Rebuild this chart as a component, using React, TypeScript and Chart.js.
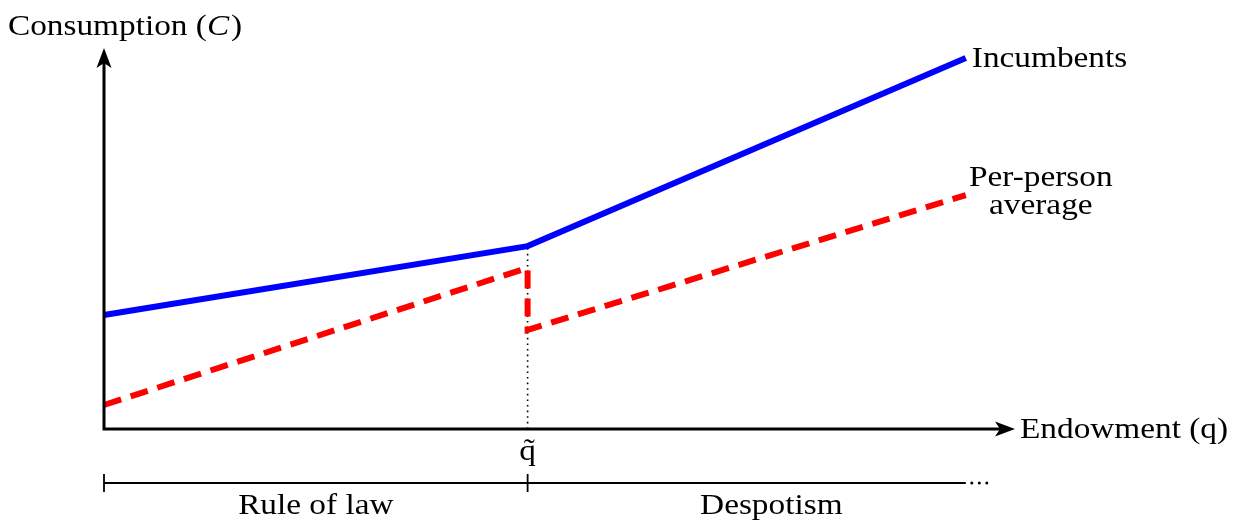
import React, { useEffect, useRef } from "react";
import { Chart, registerables } from "chart.js";

Chart.register(...registerables);

// ---- data (arbitrary units) ----
const xMax = 10;
const yMax = 10;
const qTilde = 4.65;
const qEnd = 9.46;
const incumbentsX = [0, 4.65, 9.46];
const incumbentsY = [2.99, 4.8, 9.74];
const averageX = [0, 4.65, 4.65, 9.46];
const averageY = [0.63, 4.23, 2.6, 6.14];

const yAxisTitle = "Consumption (";
const yAxisSymbol = "C";
const xAxisTitle = "Endowment (q)";
const qTildeLabel = "q\u0303";
const incumbentsLabel = "Incumbents";
const averageLabel = ["Per-person", "average"];
const regimeLabels = ["Rule of law", "Despotism"];

const SERIF = "'Liberation Serif', 'DejaVu Serif', serif";
const FS = 30;
const STRETCH = 1.11;

function toPoints(xs: number[], ys: number[]) {
  return xs.map((x, i) => ({ x, y: ys[i] }));
}

// draw text horizontally stretched to mimic the wider Computer Modern face
function textS(ctx: CanvasRenderingContext2D, s: string, x: number, y: number, align: "left" | "center" = "left") {
  const w = ctx.measureText(s).width * STRETCH;
  const left = align === "center" ? x - w / 2 : x;
  ctx.save();
  ctx.textAlign = "left";
  ctx.translate(left, y);
  ctx.scale(STRETCH, 1);
  ctx.fillText(s, 0, 0);
  ctx.restore();
  return w;
}

const diagramPlugin = {
  id: "diagram",
  beforeDatasetsDraw(chart: any) {
    const ctx = chart.ctx as CanvasRenderingContext2D;
    const xs = chart.scales.x;
    const ys = chart.scales.y;
    const y0 = ys.getPixelForValue(0);
    const xq = xs.getPixelForValue(qTilde);
    ctx.save();
    ctx.strokeStyle = "#000";
    ctx.lineWidth = 1.6;
    ctx.setLineDash([1.6, 4]);
    ctx.beginPath();
    ctx.moveTo(xq, y0);
    ctx.lineTo(xq, ys.getPixelForValue(incumbentsY[1]));
    ctx.stroke();
    ctx.restore();
  },
  afterDatasetsDraw(chart: any) {
    const ctx = chart.ctx as CanvasRenderingContext2D;
    const xs = chart.scales.x;
    const ys = chart.scales.y;
    const x0 = xs.getPixelForValue(0);
    const y0 = ys.getPixelForValue(0);
    const xTip = xs.getPixelForValue(xMax);
    const yTip = ys.getPixelForValue(yMax);
    const xq = xs.getPixelForValue(qTilde);
    const xe = xs.getPixelForValue(qEnd);
    ctx.save();
    ctx.strokeStyle = "#000";
    ctx.fillStyle = "#000";
    ctx.lineWidth = 3;
    ctx.lineCap = "butt";
    // axes
    ctx.beginPath();
    ctx.moveTo(x0 - 1.5, y0);
    ctx.lineTo(xTip - 12, y0);
    ctx.moveTo(x0, y0 + 1.5);
    ctx.lineTo(x0, yTip + 12);
    ctx.stroke();
    // arrowheads (stealth style)
    const L = 20, W = 7.5, notch = 5;
    ctx.beginPath();
    ctx.moveTo(xTip, y0);
    ctx.lineTo(xTip - L, y0 - W);
    ctx.lineTo(xTip - L + notch, y0);
    ctx.lineTo(xTip - L, y0 + W);
    ctx.closePath();
    ctx.fill();
    ctx.beginPath();
    ctx.moveTo(x0, yTip);
    ctx.lineTo(x0 - W, yTip + L);
    ctx.lineTo(x0, yTip + L - notch);
    ctx.lineTo(x0 + W, yTip + L);
    ctx.closePath();
    ctx.fill();

    // text
    ctx.font = `${FS}px ${SERIF}`;
    ctx.textBaseline = "alphabetic";
    // y axis title
    let tx = 8;
    const ty = 35;
    tx += textS(ctx, yAxisTitle, tx, ty);
    ctx.font = `italic ${FS}px ${SERIF}`;
    tx += textS(ctx, yAxisSymbol, tx, ty) + 2;
    ctx.font = `${FS}px ${SERIF}`;
    textS(ctx, ")", tx, ty);
    // x axis title
    ctx.textBaseline = "middle";
    textS(ctx, xAxisTitle, xTip + 5, y0 + 1);
    // series labels
    textS(ctx, incumbentsLabel, xe + 6, ys.getPixelForValue(incumbentsY[2]) + 1);
    const avgCx = xe + 75;
    const avgY = ys.getPixelForValue(averageY[3]);
    textS(ctx, averageLabel[0], avgCx, avgY - 17, "center");
    textS(ctx, averageLabel[1], avgCx, avgY + 11, "center");
    // q tilde
    textS(ctx, qTildeLabel, xq, y0 + 23, "center");

    // regime timeline
    const tl = y0 + 54;
    ctx.lineWidth = 1.8;
    ctx.beginPath();
    ctx.moveTo(x0, tl);
    ctx.lineTo(xe, tl);
    ctx.moveTo(x0, tl - 9);
    ctx.lineTo(x0, tl + 9);
    ctx.moveTo(xq, tl - 9);
    ctx.lineTo(xq, tl + 9);
    ctx.stroke();
    for (let i = 0; i < 3; i++) {
      ctx.beginPath();
      ctx.arc(xe + 6 + i * 7.5, tl, 1.5, 0, Math.PI * 2);
      ctx.fill();
    }
    textS(ctx, regimeLabels[0], (x0 + xq) / 2, tl + 23, "center");
    textS(ctx, regimeLabels[1], (xq + xTip) / 2, tl + 23, "center");
    ctx.restore();
  },
};

export default function App() {
  const ref = useRef<HTMLCanvasElement>(null);
  useEffect(() => {
    document.body.style.margin = "0";
    const chart = new Chart(ref.current!, {
      type: "scatter",
      data: {
        datasets: [
          {
            label: "Incumbents",
            data: toPoints(incumbentsX, incumbentsY),
            showLine: true,
            borderColor: "#0000ff",
            borderWidth: 6,
            pointRadius: 0,
            fill: false,
            clip: false,
            borderJoinStyle: "miter",
          } as any,
          {
            label: "Per-person average",
            data: toPoints(averageX, averageY),
            showLine: true,
            borderColor: "#ff0000",
            borderWidth: 6,
            borderDash: [18, 10],
            pointRadius: 0,
            fill: false,
            clip: false,
            borderJoinStyle: "miter",
          } as any,
        ],
      },
      options: {
        animation: false,
        responsive: false,
        devicePixelRatio: 1,
        layout: { padding: { left: 104, right: 218, top: 48, bottom: 91 } },
        plugins: { legend: { display: false }, tooltip: { enabled: false } },
        scales: {
          x: { type: "linear", min: 0, max: xMax, display: false },
          y: { type: "linear", min: 0, max: yMax, display: false },
        },
      },
      plugins: [diagramPlugin],
    });
    return () => chart.destroy();
  }, []);
  return (
    <div style={{ width: 1233, height: 520 }}>
      <canvas ref={ref} width={1233} height={520} style={{ display: "block" }} />
    </div>
  );
}
